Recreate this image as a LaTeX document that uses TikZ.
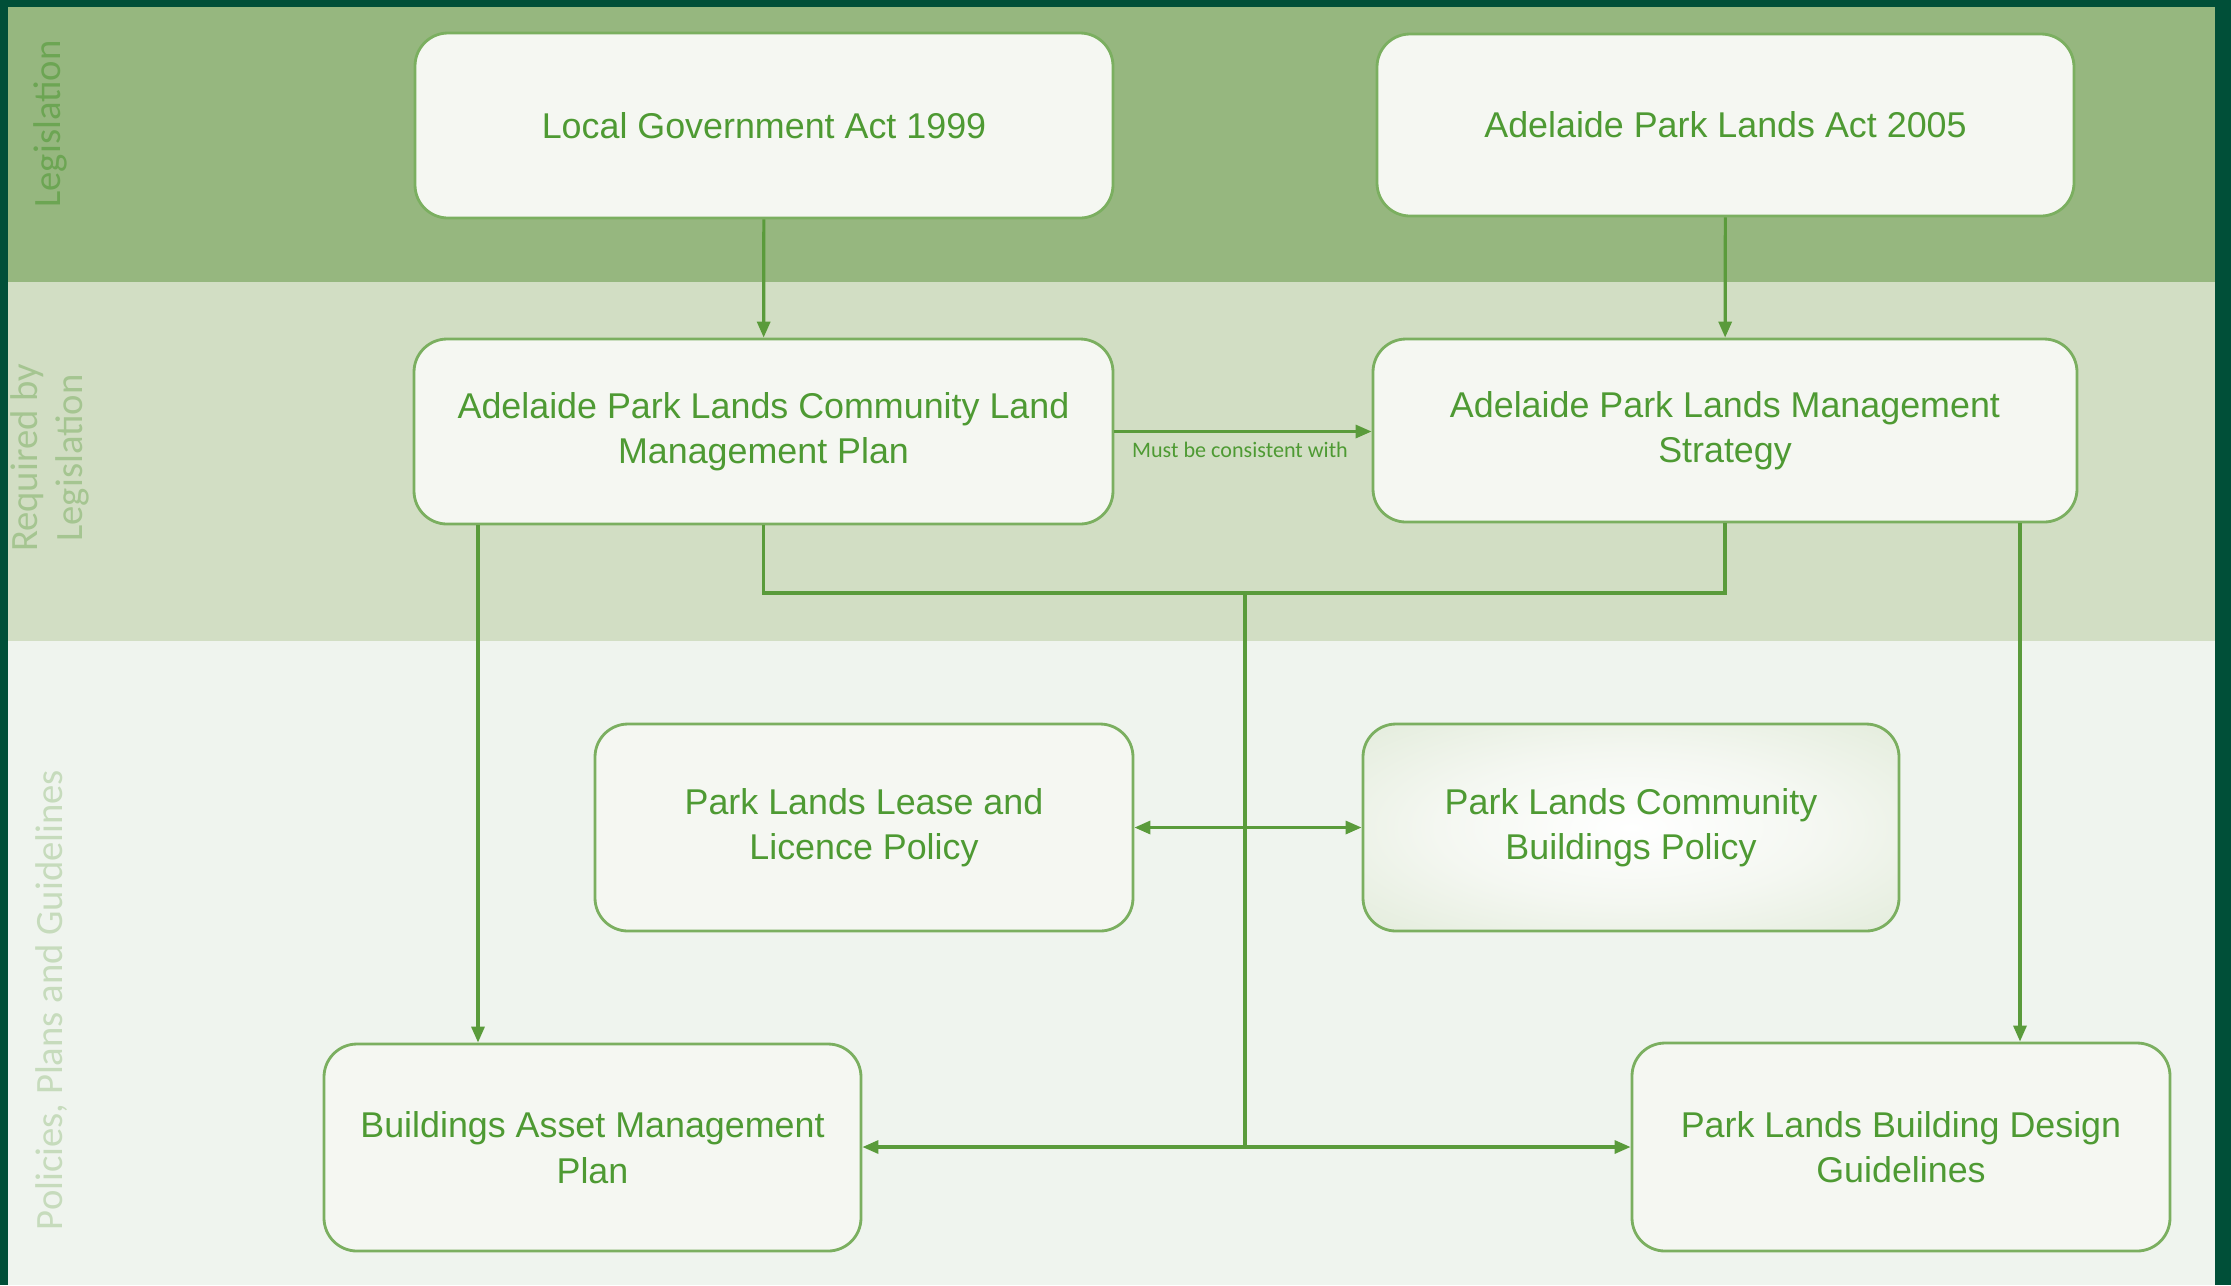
\documentclass[tikz,border=0pt]{standalone}
\usepackage{fontspec}
\setmainfont{Liberation Sans}
\newfontfamily\bandfont{Carlito}
\usetikzlibrary{arrows.meta}
\definecolor{frame}{HTML}{004F38}
\definecolor{bandA}{HTML}{96B77F}
\definecolor{bandB}{HTML}{D2DEC4}
\definecolor{bandC}{HTML}{EFF4EE}
\definecolor{labA}{HTML}{6CA553}
\definecolor{labB}{HTML}{A5C591}
\definecolor{labC}{HTML}{C6DBBC}
\definecolor{boxline}{HTML}{7BAF60}
\definecolor{boxfill}{HTML}{F5F7F2}
\definecolor{boxtext}{HTML}{4E9A33}
\definecolor{link}{HTML}{5A9B3B}
\definecolor{glowmid}{HTML}{F4F7F1}
\definecolor{glowedge}{HTML}{DAE6D0}
\pgfdeclareradialshading{boxglow}{\pgfpoint{0bp}{0bp}}{color(0bp)=(white); color(18bp)=(glowmid);
  color(46bp)=(glowedge); color(72bp)=(glowedge)}
\tikzset{box/.style={rectangle,rounded corners=3.3mm,draw=boxline,fill=boxfill,line width=0.8pt,
  text=boxtext,align=center,inner sep=0pt,font=\fontsize{10.2}{12.95}\selectfont}}
\tikzset{band/.style={rotate=90,align=center,font=\bandfont\fontsize{11}{12.8}\selectfont}}
\tikzset{link/.style={draw=link,line width=0.9pt}}
\tikzset{tip/.style={link,-{Triangle[length=1.6mm,width=1.3mm]}}}
\tikzset{both/.style={link,{Triangle[length=1.6mm,width=1.3mm]}-{Triangle[length=1.6mm,width=1.3mm]}}}

\begin{document}
\begin{tikzpicture}[x=0.1mm,y=-0.1mm]
      \useasboundingbox (0,0) rectangle (2231,1285);
      \fill[frame] (0,0) rectangle (2231,1285);
      \fill[bandA] (8,7) rectangle (2215,282);
      \fill[bandB] (8,282) rectangle (2215,641);
      \fill[bandC] (8,641) rectangle (2215,1285);
      \node[band,text=labA] (legis) at (50,124) {Legislation};
      \node[band,text=labB] (req) at (50,458) {Required by\\Legislation};
      \node[band,text=labC] (pol) at (52,1000) {Policies, Plans and Guidelines};
      \node[box,minimum width=69.8mm,minimum height=18.5mm] (lga) at (764,125.5) {Local Government Act 1999};
      \node[box,minimum width=69.7mm,minimum height=18.2mm] (apla) at (1725.5,125) {Adelaide Park Lands Act 2005};
      \node[box,minimum width=69.9mm,minimum height=18.5mm] (clmp) at (763.5,431.5) {Adelaide Park Lands Community Land\\Management Plan};
      \node[box,minimum width=70.4mm,minimum height=18.3mm] (mgmt) at (1725,430.5) {Adelaide Park Lands Management\\Strategy};
      \node[box,minimum width=53.8mm,minimum height=20.7mm] (lease) at (864,827.5) {Park Lands Lease and\\Licence Policy};
      \node[box,minimum width=53.6mm,minimum height=20.7mm,shading=boxglow] (cbp) at (1631,827.5) {Park Lands Community\\Buildings Policy};
      \node[box,minimum width=53.7mm,minimum height=20.7mm] (bamp) at (592.5,1147.5) {Buildings Asset Management\\Plan};
      \node[box,minimum width=53.8mm,minimum height=20.8mm] (bdg) at (1901,1147) {Park Lands Building Design\\Guidelines};
      \node[text=boxtext,font=\bandfont\fontsize{6.3}{7}\selectfont] (must) at (1240,450) {Must be consistent with};
      \coordinate (J) at (1245,593);
      \coordinate (K) at (1245,1147);
      \draw[tip] (lga) -- (clmp);
      \draw[tip] (apla) -- (mgmt);
      \draw[tip] (clmp.east) -- (clmp.east -| mgmt.west);
      \draw[link] (clmp.south) |- (J) -| (mgmt.south);
      \draw[link] (J) -- (K);
      \draw[tip] (K) -- (K -| bamp.east);
      \draw[tip] (K) -- (K -| bdg.west);
      \draw[both] (lease.east) -- (lease.east -| cbp.west);
      \draw[tip] (clmp.south -| 478,0) -- (bamp.north -| 478,0);
      \draw[tip] (mgmt.south -| 2020,0) -- (bdg.north -| 2020,0);
    \end{tikzpicture}
\end{document}
